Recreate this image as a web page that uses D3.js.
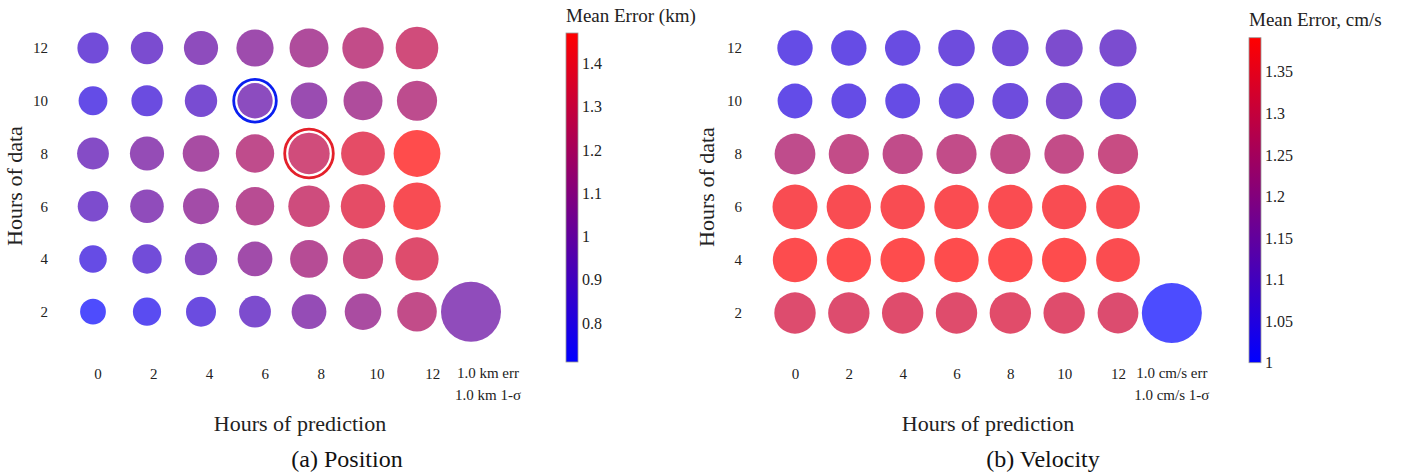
<!DOCTYPE html>
<html>
<head>
<meta charset="utf-8">
<script src="https://cdn.jsdelivr.net/npm/d3@7/dist/d3.min.js"></script>
<style>
  html, body { margin: 0; padding: 0; background: #fff; }
  svg { display: block; font-family: "Liberation Serif", "DejaVu Serif", serif; }
  .tick text { fill: #222; }
</style>
</head>
<body>
<svg id="chart" width="1404" height="475"></svg>
<script>
// Hours of prediction (columns) and hours of data (rows)
const hoursPred = [0, 2, 4, 6, 8, 10, 12];
const hoursData = [2, 4, 6, 8, 10, 12];

// Position: mean error (km), one row per hours-of-data value (2 .. 12)
const posMeanErr = [
  [0.72, 0.77, 0.84, 0.92, 1.02, 1.11, 1.21],
  [0.82, 0.87, 0.97, 1.07, 1.16, 1.25, 1.33],
  [0.92, 1.00, 1.08, 1.17, 1.26, 1.36, 1.44],
  [0.95, 1.02, 1.10, 1.20, 1.27, 1.36, 1.47],
  [0.81, 0.84, 0.90, 0.98, 1.04, 1.13, 1.19],
  [0.87, 0.91, 0.99, 1.06, 1.13, 1.21, 1.27]
];
// Position: 1-sigma (km)
const posSigma = [
  [0.43, 0.47, 0.50, 0.53, 0.58, 0.61, 0.66],
  [0.46, 0.49, 0.54, 0.58, 0.63, 0.67, 0.72],
  [0.51, 0.56, 0.60, 0.64, 0.69, 0.74, 0.79],
  [0.53, 0.57, 0.61, 0.64, 0.69, 0.73, 0.78],
  [0.48, 0.52, 0.54, 0.59, 0.61, 0.65, 0.67],
  [0.52, 0.54, 0.57, 0.62, 0.65, 0.69, 0.71]
];

// Velocity: mean error (cm/s)
const velMeanErr = [
  [1.316, 1.318, 1.320, 1.322, 1.325, 1.322, 1.314],
  [1.386, 1.388, 1.388, 1.388, 1.390, 1.388, 1.384],
  [1.377, 1.377, 1.379, 1.381, 1.381, 1.379, 1.375],
  [1.252, 1.261, 1.255, 1.257, 1.261, 1.261, 1.270],
  [1.051, 1.054, 1.056, 1.067, 1.073, 1.106, 1.086],
  [1.054, 1.056, 1.064, 1.073, 1.086, 1.108, 1.102]
];
// Velocity: 1-sigma (cm/s)
const velSigma = [
  [0.69, 0.69, 0.69, 0.69, 0.69, 0.69, 0.68],
  [0.74, 0.74, 0.74, 0.74, 0.74, 0.74, 0.73],
  [0.75, 0.74, 0.74, 0.74, 0.74, 0.74, 0.73],
  [0.68, 0.67, 0.67, 0.67, 0.67, 0.66, 0.67],
  [0.58, 0.58, 0.58, 0.59, 0.60, 0.61, 0.61],
  [0.59, 0.59, 0.59, 0.61, 0.61, 0.62, 0.62]
];

// Colour bar ranges and ticks
const posColorDomain = [0.71, 1.47];
const posColorTicks = [0.8, 0.9, 1.0, 1.1, 1.2, 1.3, 1.4];
const velColorDomain = [1.0, 1.391];
const velColorTicks = [1.0, 1.05, 1.1, 1.15, 1.2, 1.25, 1.3, 1.35];

// Reference marker: 1.0 error, 1.0 sigma
const refErr = 1.0;
const refSigma = 1.0;

// Highlighted cells on the position panel
const posHighlights = [
  { data: 10, pred: 6, color: "#0a1ff0" },
  { data: 8, pred: 8, color: "#e4202a" }
];

const svg = d3.select("#chart");
const TICK_FONT = 15;

function drawPanel(p) {
  const g = svg.append("g");

  const x = d3.scaleLinear().domain([0, 12]).range(p.xRange);
  const xLab = d3.scaleLinear().domain([0, 14]).range(p.xLabRange);
  const y = d3.scaleLinear().domain([2, 12]).range(p.yRange);
  const r = d3.scaleLinear().domain([0, 1]).range([0, 30]);
  const color = d3.scaleLinear().domain(p.colorDomain)
    .range(["#0000ff", "#ff0000"]).interpolate(d3.interpolateRgb).clamp(true);

  const cells = [];
  hoursData.forEach((hd, i) => hoursPred.forEach((hp, j) => {
    cells.push({ data: hd, pred: hp, err: p.err[i][j], sigma: p.sigma[i][j] });
  }));

  g.selectAll("circle.cell").data(cells).join("circle")
    .attr("class", "cell")
    .attr("cx", d => x(d.pred))
    .attr("cy", d => y(d.data))
    .attr("r", d => r(d.sigma))
    .attr("fill", d => color(d.err))
    .attr("fill-opacity", 0.7);

  // highlight rings
  (p.highlights || []).forEach(h => {
    const c = cells.find(d => d.data === h.data && d.pred === h.pred);
    g.append("circle")
      .attr("cx", x(c.pred)).attr("cy", y(c.data))
      .attr("r", r(c.sigma) + 3.6)
      .attr("fill", "none").attr("stroke", h.color).attr("stroke-width", 2.8);
  });

  // reference marker
  g.append("circle")
    .attr("cx", x(14)).attr("cy", y(2))
    .attr("r", r(refSigma))
    .attr("fill", color(refErr)).attr("fill-opacity", 0.7);

  // x tick labels
  const xAxis = g.append("g")
    .attr("transform", `translate(0,${p.xTickY})`)
    .call(d3.axisBottom(xLab).tickValues(hoursPred).tickSize(0).tickPadding(0).tickFormat(d3.format("d")));
  xAxis.select(".domain").remove();
  xAxis.selectAll("text").attr("font-size", TICK_FONT).attr("font-family", "Liberation Serif");

  // y tick labels
  const yAxis = g.append("g")
    .attr("transform", `translate(${p.yTickX},0)`)
    .call(d3.axisLeft(y).tickValues(hoursData).tickSize(0).tickPadding(0).tickFormat(d3.format("d")));
  yAxis.select(".domain").remove();
  yAxis.selectAll("text").attr("font-size", TICK_FONT).attr("font-family", "Liberation Serif");

  // reference marker caption
  const lt = g.append("text")
    .attr("x", xLab(14)).attr("text-anchor", "middle")
    .attr("font-size", TICK_FONT).attr("fill", "#222");
  lt.append("tspan").attr("x", xLab(14)).attr("y", p.xTickY + 10).text(`1.0 ${p.unit} err`);
  lt.append("tspan").attr("x", xLab(14)).attr("y", p.xTickY + 32).text(`1.0 ${p.unit} 1-σ`);

  // axis titles
  g.append("text")
    .attr("x", p.xTitleX).attr("y", 431)
    .attr("text-anchor", "middle").attr("font-size", 22).attr("fill", "#222")
    .text("Hours of prediction");
  g.append("text")
    .attr("transform", `translate(${p.yTitleX},${p.yTitleY}) rotate(-90)`)
    .attr("text-anchor", "middle").attr("font-size", 22).attr("fill", "#222")
    .text("Hours of data");

  // caption
  g.append("text")
    .attr("x", p.captionX).attr("y", 467)
    .attr("text-anchor", "middle").attr("font-size", 24).attr("fill", "#111")
    .attr("font-family", "Liberation Serif")
    .text(p.caption);

  // colour bar
  const cb = p.colorbar;
  const cy = d3.scaleLinear().domain(p.colorDomain).range([cb.y1, cb.y0]);
  const gradId = "grad-" + p.id;
  const grad = svg.append("defs").append("linearGradient")
    .attr("id", gradId).attr("x1", 0).attr("y1", 1).attr("x2", 0).attr("y2", 0);
  grad.selectAll("stop").data(p.colorDomain).join("stop")
    .attr("offset", (d, i) => i)
    .attr("stop-color", d => color(d));
  g.append("rect")
    .attr("x", cb.x).attr("y", cb.y0)
    .attr("width", cb.w).attr("height", cb.y1 - cb.y0)
    .attr("fill", `url(#${gradId})`)
    .attr("stroke", "#999").attr("stroke-width", 0.8);
  const cAxis = g.append("g")
    .attr("transform", `translate(${cb.x + cb.w},0)`)
    .call(d3.axisRight(cy).tickValues(p.colorTicks).tickSize(0).tickPadding(4)
      .tickFormat(d => String(+d.toFixed(2))));
  cAxis.select(".domain").remove();
  cAxis.selectAll("text").attr("font-size", 16).attr("font-family", "Liberation Serif");
  g.append("text")
    .attr("x", cb.x).attr("y", cb.titleY)
    .attr("font-size", 19).attr("fill", "#222")
    .text(p.colorTitle);
}

drawPanel({
  id: "pos",
  err: posMeanErr, sigma: posSigma,
  xRange: [93, 417], xLabRange: [97.5, 488], yRange: [311.7, 48],
  xTickY: 368, yTickX: 48,
  xTitleX: 300, yTitleX: 22, yTitleY: 186,
  captionX: 347, caption: "(a) Position",
  unit: "km",
  colorDomain: posColorDomain, colorTicks: posColorTicks,
  colorbar: { x: 566, w: 12, y0: 33, y1: 362, titleY: 22 },
  colorTitle: "Mean Error (km)",
  highlights: posHighlights
});

drawPanel({
  id: "vel",
  err: velMeanErr, sigma: velSigma,
  xRange: [795, 1118], xLabRange: [795, 1171.8], yRange: [313, 48],
  xTickY: 368, yTickX: 742,
  xTitleX: 988, yTitleX: 714, yTitleY: 187,
  captionX: 1043, caption: "(b) Velocity",
  unit: "cm/s",
  colorDomain: velColorDomain, colorTicks: velColorTicks,
  colorbar: { x: 1249, w: 12, y0: 37.7, y1: 362.7, titleY: 26 },
  colorTitle: "Mean Error, cm/s",
  highlights: []
});
</script>
</body>
</html>
